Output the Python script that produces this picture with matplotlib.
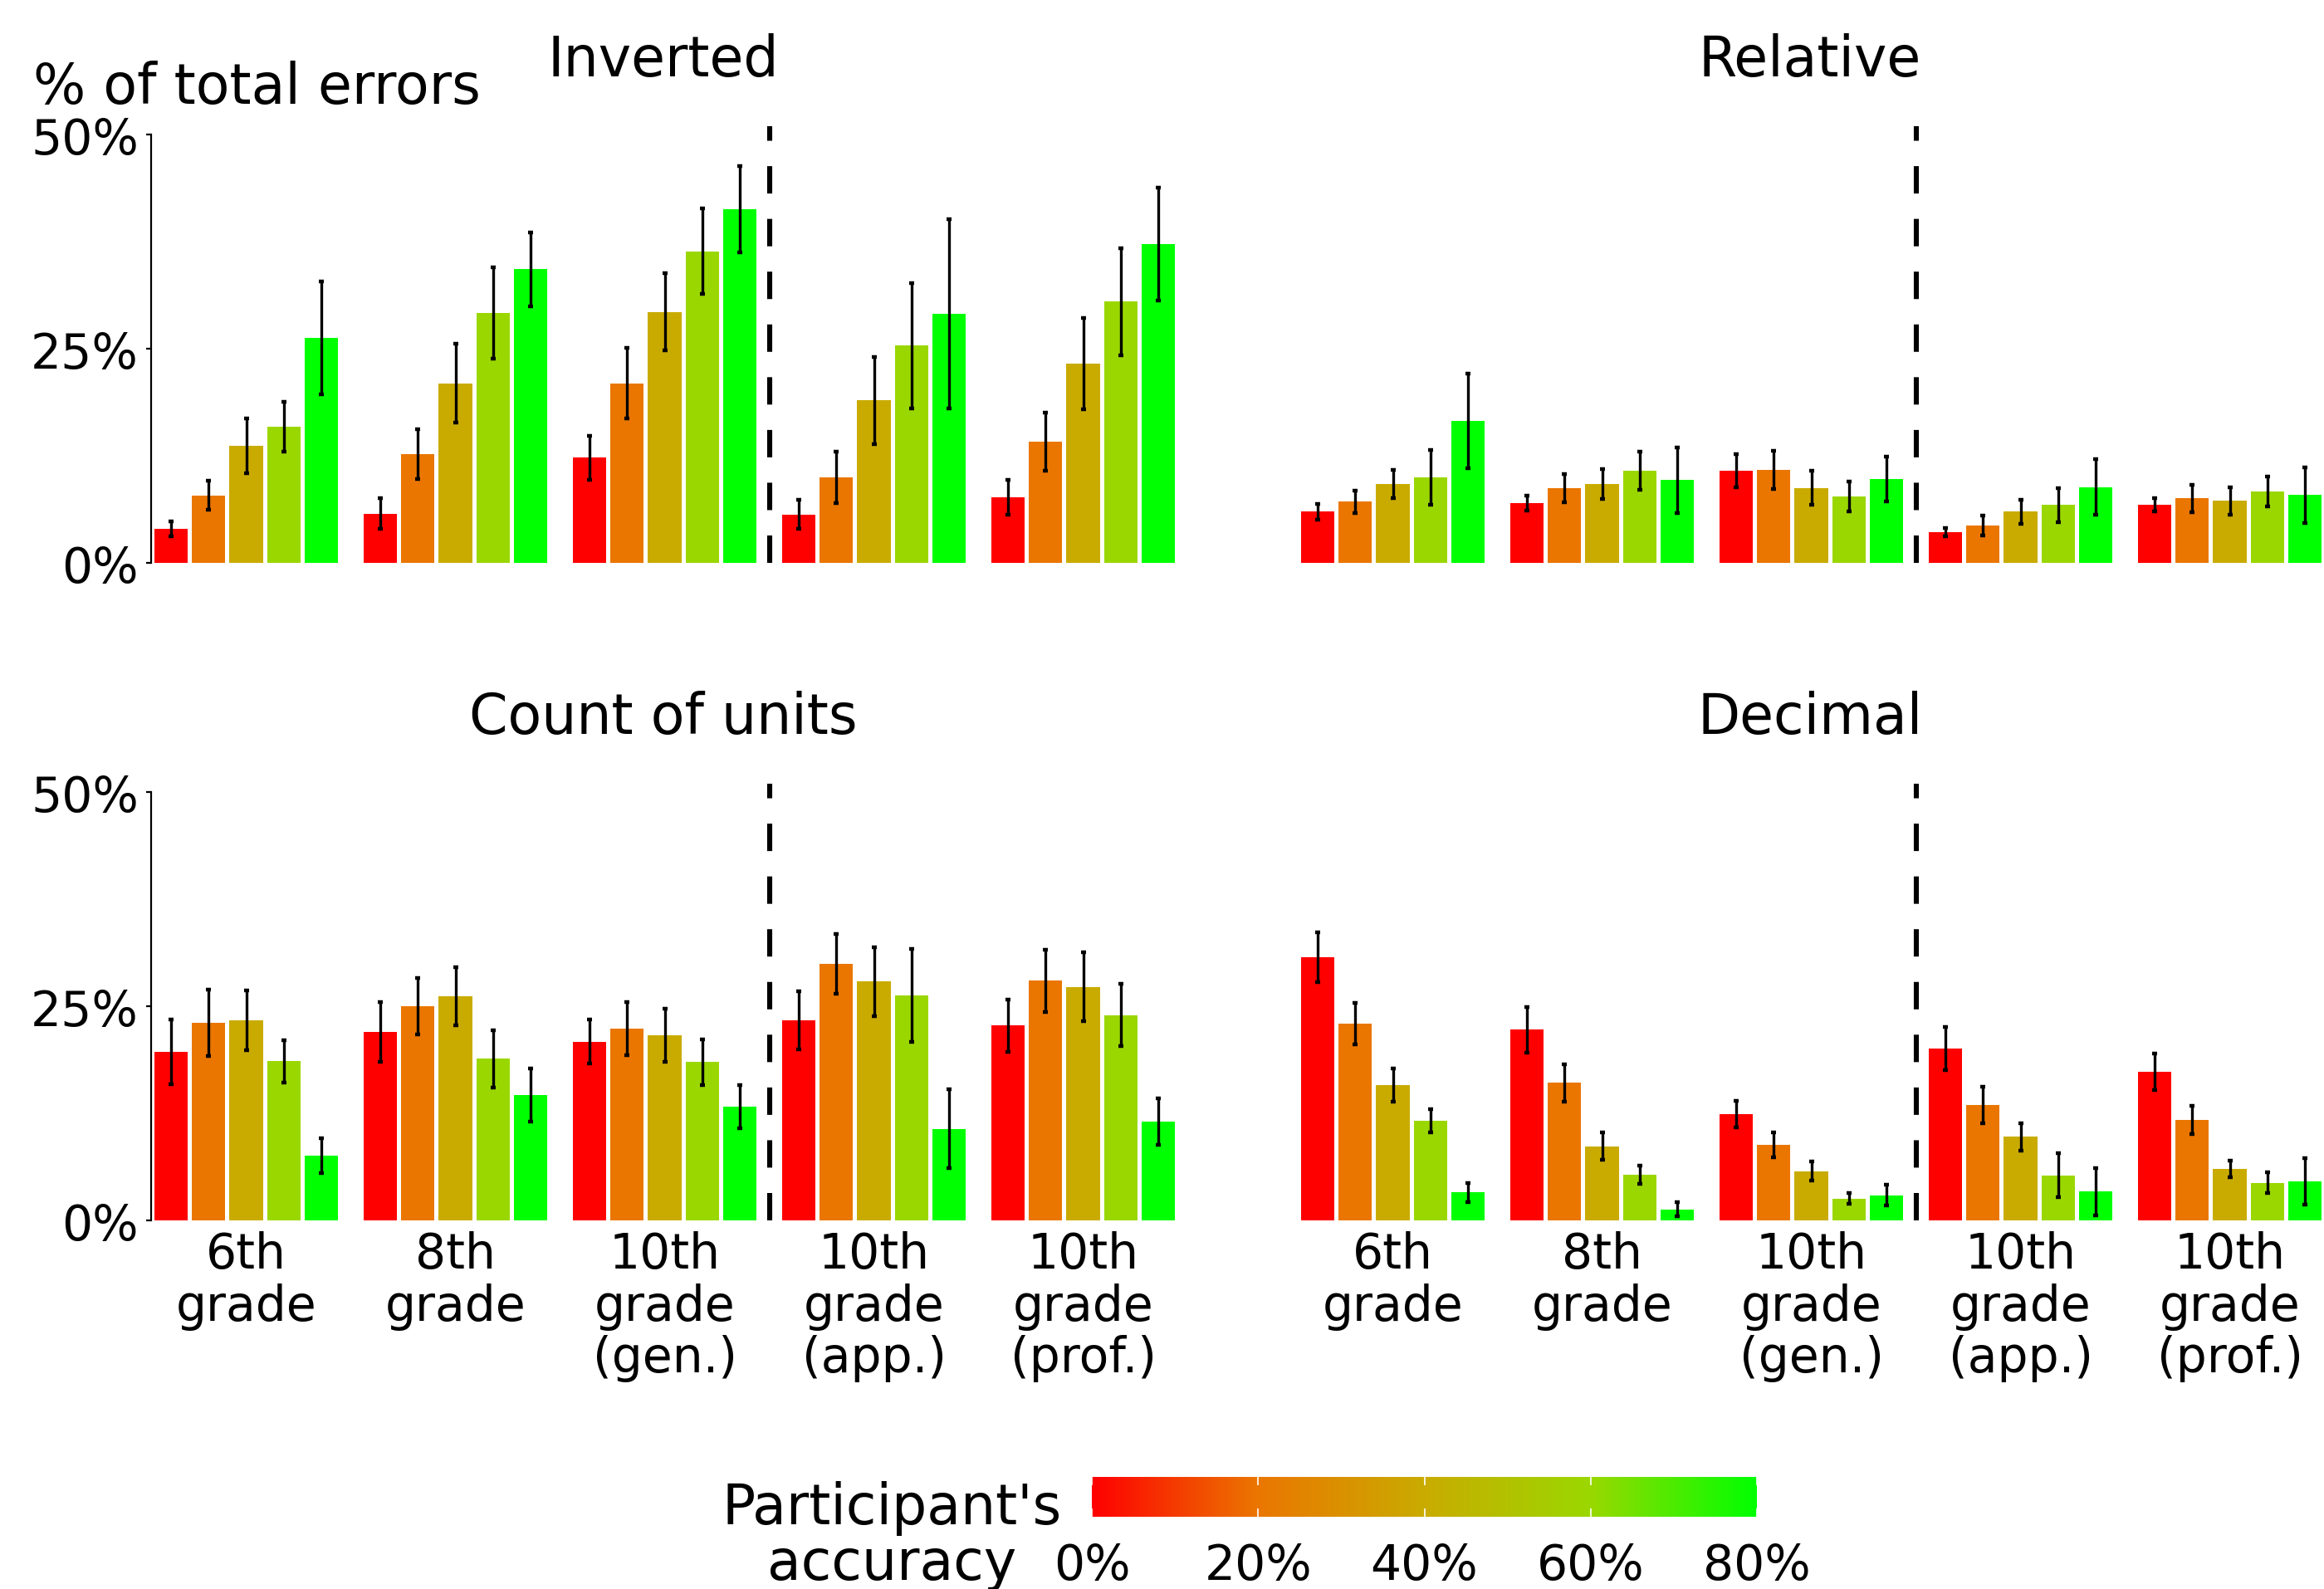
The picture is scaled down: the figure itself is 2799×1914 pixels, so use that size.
import numpy as np
import matplotlib.pyplot as plt
from matplotlib.colors import LinearSegmentedColormap, Normalize
from matplotlib.cm import ScalarMappable
from matplotlib.ticker import FuncFormatter

# grades on the x axis, accuracy bins for the colour scale
groups = ['6th\ngrade', '8th\ngrade', '10th\ngrade\n(gen.)',
          '10th\ngrade\n(app.)', '10th\ngrade\n(prof.)']
accuracy_ticks = [0, 20, 40, 60, 80]
level_colors = ['#ff0000', '#ea7600', '#c9ab00', '#9ad700', '#00ff00']

# % of total errors, one row per grade, one column per accuracy bin
inverted = [[4.0, 7.9, 13.7, 15.9, 26.3],
            [5.8, 12.7, 21.0, 29.2, 34.3],
            [12.3, 21.0, 29.3, 36.4, 41.3],
            [5.7, 10.0, 19.0, 25.4, 29.1],
            [7.7, 14.2, 23.3, 30.5, 37.2]]
inverted_err = [[0.9, 1.7, 3.2, 2.9, 6.6],
                [1.8, 2.9, 4.6, 5.3, 4.3],
                [2.6, 4.1, 4.5, 5.0, 5.0],
                [1.7, 3.0, 5.1, 7.3, 11.0],
                [2.0, 3.4, 5.3, 6.2, 6.6]]

relative = [[6.0, 7.2, 9.2, 10.0, 16.6],
            [7.0, 8.75, 9.25, 10.8, 9.7],
            [10.8, 10.9, 8.8, 7.8, 9.8],
            [3.6, 4.4, 6.0, 6.8, 8.9],
            [6.8, 7.55, 7.3, 8.35, 7.95]]
relative_err = [[0.9, 1.3, 1.65, 3.2, 5.5],
                [0.85, 1.65, 1.75, 2.25, 3.8],
                [1.95, 2.2, 2.0, 1.75, 2.6],
                [0.5, 1.2, 1.45, 2.0, 3.2],
                [0.8, 1.6, 1.6, 1.75, 3.25]]

count_units = [[19.7, 23.1, 23.4, 18.6, 7.6],
               [22.0, 25.0, 26.2, 18.9, 14.7],
               [20.9, 22.4, 21.6, 18.5, 13.3],
               [23.4, 30.0, 27.9, 26.3, 10.7],
               [22.8, 28.0, 27.3, 24.0, 11.6]]
count_units_err = [[3.8, 3.9, 3.5, 2.5, 2.0],
                   [3.5, 3.3, 3.4, 3.35, 3.1],
                   [2.55, 3.1, 3.1, 2.65, 2.5],
                   [3.4, 3.5, 4.0, 5.4, 4.6],
                   [3.05, 3.6, 4.0, 3.6, 2.7]]

decimal = [[30.75, 23.0, 15.8, 11.7, 3.3],
           [22.3, 16.1, 8.7, 5.4, 1.35],
           [12.4, 8.9, 5.8, 2.6, 3.0],
           [20.1, 13.5, 9.8, 5.3, 3.4],
           [17.4, 11.8, 6.05, 4.45, 4.6]]
decimal_err = [[2.9, 2.4, 1.95, 1.35, 1.15],
               [2.65, 2.2, 1.6, 1.05, 0.85],
               [1.55, 1.45, 1.1, 0.65, 1.25],
               [2.5, 2.1, 1.6, 2.55, 2.75],
               [2.15, 1.65, 1.0, 1.2, 2.75]]

panels = [('Inverted', inverted, inverted_err),
          ('Relative', relative, relative_err),
          ('Count of units', count_units, count_units_err),
          ('Decimal', decimal, decimal_err)]

cmap = LinearSegmentedColormap.from_list('acc', level_colors)

fig = plt.figure(figsize=(13.995, 9.575), dpi=200)

lefts = [0.0650, 0.5584]
bottoms = [0.6452, 0.2316]
width, height = 0.4407, 0.2750

step = 0.18
bar_w = 0.16

for k, (title, vals, errs) in enumerate(panels):
    row, col = divmod(k, 2)
    ax = fig.add_axes([lefts[col], bottoms[row], width, height])
    vals = np.array(vals)
    errs = np.array(errs)
    for i in range(5):
        x = np.arange(len(groups)) + (i - 2) * step
        ax.bar(x, vals[:, i], width=bar_w, color=level_colors[i], linewidth=0)
        ax.errorbar(x, vals[:, i], yerr=errs[:, i], fmt='none', ecolor='black',
                    elinewidth=1.2, capsize=1.1, capthick=1.6)

    ax.axvline(2.5, color='black', lw=2.2, linestyle=(0, (5.4, 5.0)))
    ax.set_xlim(-0.455, 4.44)
    ax.set_ylim(0, 51)
    ax.set_title(title, fontsize=24, pad=22)

    for s in ['top', 'right', 'bottom']:
        ax.spines[s].set_visible(False)

    if col == 0:
        ax.spines['left'].set_bounds(0, 50)
        ax.spines['left'].set_linewidth(0.8)
        ax.set_yticks([0, 25, 50])
        ax.set_yticklabels(['0%', '25%', '50%'])
        ax.tick_params(axis='y', labelsize=21, length=2.2, width=0.8, pad=3.2)
    else:
        ax.spines['left'].set_visible(False)
        ax.set_yticks([])

    ax.set_xticks(range(len(groups)))
    if row == 1:
        ax.set_xticklabels(groups)
        ax.tick_params(axis='x', labelsize=21, length=0, pad=4.3)
        plt.setp(ax.get_xticklabels(), linespacing=1.12)
    else:
        ax.tick_params(axis='x', length=0, labelbottom=False)

fig.text(0.0143, 0.9347, '% of total errors', fontsize=24, va='baseline')

# colour scale for participant's accuracy
cax = fig.add_axes([0.4698, 0.0454, 0.2862, 0.0251])
cb = fig.colorbar(ScalarMappable(norm=Normalize(0, 80), cmap=cmap), cax=cax,
                  orientation='horizontal', ticks=accuracy_ticks)
cb.outline.set_visible(False)
cax.xaxis.set_major_formatter(FuncFormatter(lambda v, p: '%d%%' % v))
cax.tick_params(axis='x', direction='in', color='white', labelcolor='black',
                length=3.5, width=0.6, top=True, labelsize=21, pad=10.8)

fig.text(0.3837, 1 - 1836 / 1915, "Participant's", fontsize=24,
         ha='center', va='baseline')
fig.text(0.3837, 1 - 1903 / 1915, "accuracy", fontsize=24,
         ha='center', va='baseline')

fig.savefig('out.png', dpi=200)
